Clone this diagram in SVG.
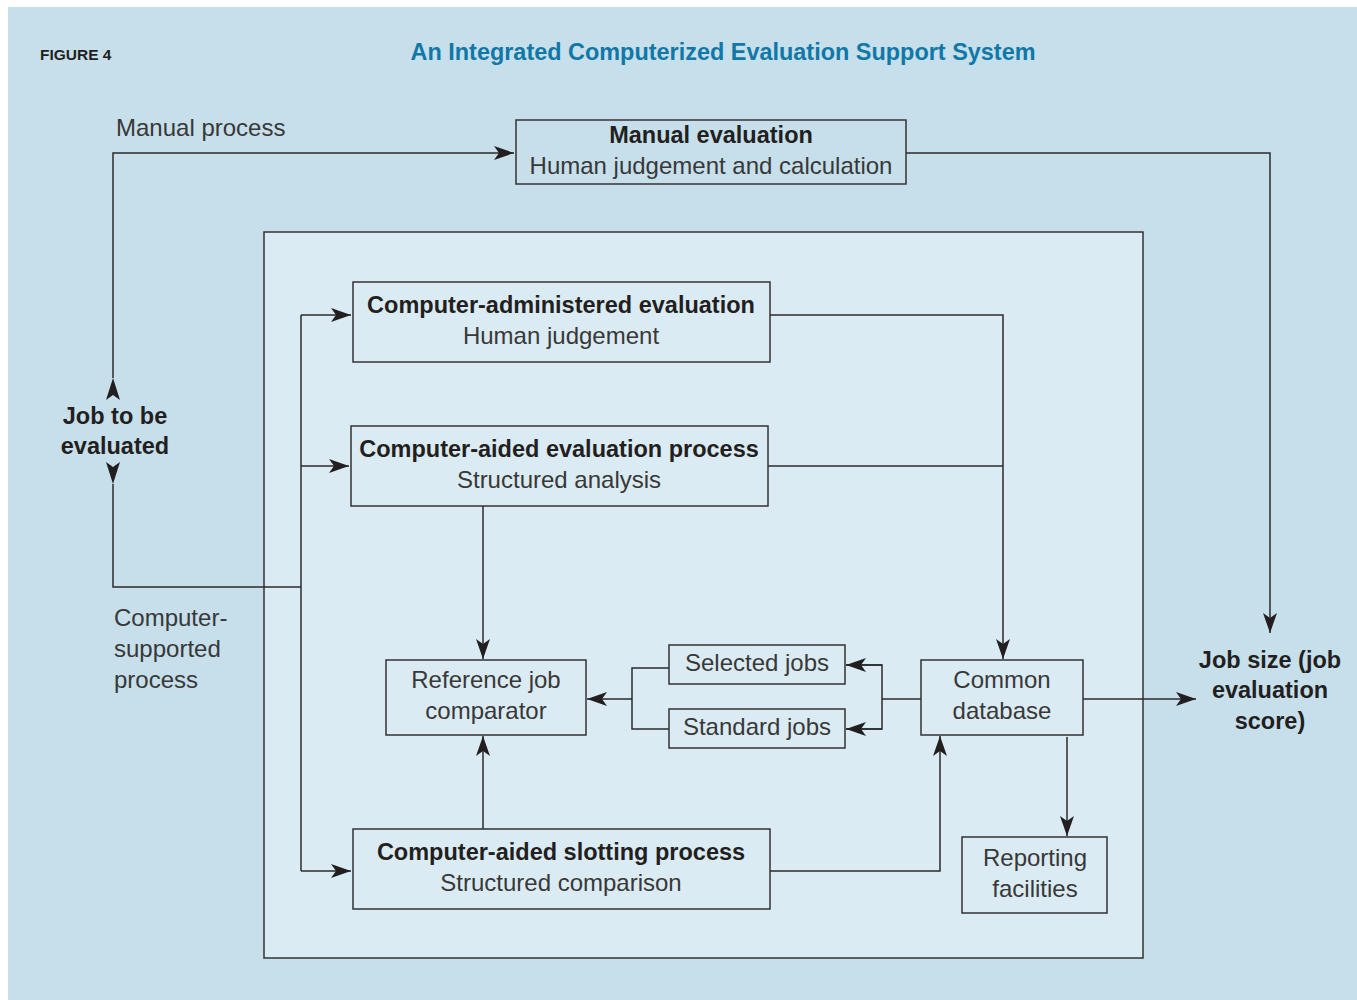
<svg xmlns="http://www.w3.org/2000/svg" width="1357" height="1000" viewBox="0 0 1357 1000">
<style>
.t{font-family:"Liberation Sans",Arial,sans-serif;font-size:24px;fill:#383838;text-anchor:middle}
.b{font-weight:bold;fill:#231f20;font-size:23.5px}
.l{text-anchor:start}
.box{fill:none;stroke:#333;stroke-width:1.5}
.c line,.c polyline{fill:none;stroke:#2b2b2b;stroke-width:1.5}
.ah{fill:#231f20}
</style>
<defs>
<marker id="a" markerUnits="userSpaceOnUse" markerWidth="24" markerHeight="16" viewBox="-21 -8 22 16" refX="0" refY="0" orient="auto">
<path d="M0,0 L-20,-7 L-15,0 L-20,7 Z" class="ah"/>
</marker>
</defs>
<rect x="0" y="0" width="1357" height="1000" fill="#ffffff"/>
<rect x="8" y="7" width="1349" height="993" fill="#c6dfeb"/>
<rect x="264" y="232" width="879" height="726" fill="#dbebf3" stroke="#333" stroke-width="1.5"/>
<text x="40" y="60" class="t b l" style="font-size:15.5px">FIGURE 4</text>
<text x="723" y="60" class="t b" style="fill:#0f78a8;font-size:24px" textLength="625" lengthAdjust="spacingAndGlyphs">An Integrated Computerized Evaluation Support System</text>
<text x="116" y="136" class="t l">Manual process</text>
<text x="114" y="626" class="t l">Computer-</text>
<text x="114" y="657" class="t l">supported</text>
<text x="114" y="688" class="t l">process</text>

<g class="c" id="connectors">
<polyline points="113,378 113,153 514,153" marker-end="url(#a)"/>
<polyline points="113,484 113,587 301,587"/>
<line x1="301" y1="315" x2="301" y2="871"/>
<line x1="301" y1="315" x2="351" y2="315" marker-end="url(#a)"/>
<line x1="301" y1="466" x2="349" y2="466" marker-end="url(#a)"/>
<line x1="301" y1="871" x2="351" y2="871" marker-end="url(#a)"/>
<polyline points="906,153 1270,153 1270,633" marker-end="url(#a)"/>
<polyline points="770,315 1003,315 1003,659" marker-end="url(#a)"/>
<line x1="768" y1="466" x2="1003" y2="466"/>
<line x1="483" y1="506" x2="483" y2="659" marker-end="url(#a)"/>
<line x1="483" y1="829" x2="483" y2="736" marker-end="url(#a)"/>
<polyline points="770,871 940,871 940,736" marker-end="url(#a)"/>
<line x1="1083" y1="699" x2="1196" y2="699" marker-end="url(#a)"/>
<line x1="1067" y1="737" x2="1067" y2="836" marker-end="url(#a)"/>
<line x1="921" y1="699" x2="882" y2="699"/>
<polyline points="846,665 882,665 882,729 846,729"/>
<line x1="882" y1="665" x2="846" y2="665" marker-end="url(#a)"/>
<line x1="882" y1="729" x2="846" y2="729" marker-end="url(#a)"/>
<polyline points="669,668 632,668 632,729 669,729"/>
<line x1="632" y1="699" x2="587" y2="699" marker-end="url(#a)"/>
<path d="M113,378 L106,400 L113,395 L120,400 Z" class="ah"/>
<path d="M113,484 L106,462 L113,467 L120,462 Z" class="ah"/>
</g>

<g id="job-to-be-evaluated">
<text x="115" y="424" class="t b">Job to be</text>
<text x="115" y="454" class="t b">evaluated</text>
</g>
<g id="job-size">
<text x="1270" y="668" class="t b">Job size (job</text>
<text x="1270" y="698" class="t b">evaluation</text>
<text x="1270" y="729" class="t b">score)</text>
</g>
<g id="manual-evaluation">
<rect x="516" y="120" width="390" height="64" class="box"/>
<text x="711" y="143" class="t b">Manual evaluation</text>
<text x="711" y="174" class="t">Human judgement and calculation</text>
</g>
<g id="computer-administered">
<rect x="353" y="282" width="417" height="80" class="box"/>
<text x="561" y="313" class="t b">Computer-administered evaluation</text>
<text x="561" y="344" class="t">Human judgement</text>
</g>
<g id="computer-aided-evaluation">
<rect x="351" y="426" width="417" height="80" class="box"/>
<text x="559" y="457" class="t b">Computer-aided evaluation process</text>
<text x="559" y="488" class="t">Structured analysis</text>
</g>
<g id="reference-job-comparator">
<rect x="386" y="660" width="200" height="75" class="box"/>
<text x="486" y="688" class="t">Reference job</text>
<text x="486" y="719" class="t">comparator</text>
</g>
<g id="selected-jobs">
<rect x="669" y="645" width="176" height="39" class="box"/>
<text x="757" y="671" class="t">Selected jobs</text>
</g>
<g id="standard-jobs">
<rect x="669" y="709" width="176" height="39" class="box"/>
<text x="757" y="735" class="t">Standard jobs</text>
</g>
<g id="common-database">
<rect x="921" y="660" width="162" height="75" class="box"/>
<text x="1002" y="688" class="t">Common</text>
<text x="1002" y="719" class="t">database</text>
</g>
<g id="reporting-facilities">
<rect x="962" y="837" width="145" height="76" class="box"/>
<text x="1035" y="866" class="t">Reporting</text>
<text x="1035" y="897" class="t">facilities</text>
</g>
<g id="computer-aided-slotting">
<rect x="353" y="829" width="417" height="80" class="box"/>
<text x="561" y="860" class="t b">Computer-aided slotting process</text>
<text x="561" y="891" class="t">Structured comparison</text>
</g>
</svg>
